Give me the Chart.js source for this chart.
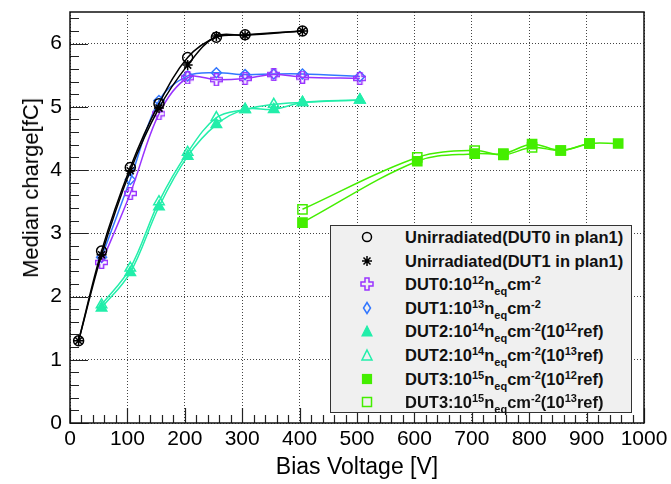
<!DOCTYPE html>
<html><head><meta charset="utf-8">
<script src="https://cdn.jsdelivr.net/npm/chart.js@4.4.1/dist/chart.umd.min.js"></script>
<style>
html,body{margin:0;padding:0;background:#fff;}
#wrap{position:relative;width:671px;height:484px;overflow:hidden;font-family:"Liberation Sans",Arial,sans-serif;}
#c{position:absolute;left:0;top:0;}
#ytitle{position:absolute;left:31px;top:188px;transform:translate(-50%,-50%) rotate(-90deg);font-size:22px;white-space:nowrap;color:#000;}
#legend{position:absolute;left:330px;top:225px;width:302px;height:188px;background:#f0f0f0;border:1.5px solid #333;box-sizing:border-box;}
.row{position:absolute;left:0;width:300px;height:24px;}
.row svg{position:absolute;left:29px;top:5px;}
.row span{position:absolute;left:74px;top:0;line-height:24px;font-weight:bold;font-size:16.5px;color:#111;white-space:nowrap;}
sup{font-size:11px;vertical-align:6px;line-height:0;}
sub{font-size:11px;vertical-align:-5px;line-height:0;}
</style>
</head><body>
<div id="wrap">
<canvas id="c" width="671" height="484"></canvas>
<div id="ytitle">Median charge[fC]</div>
<div id="legend"></div>
</div>
<script>
// ---- data ----
const xTicks = [0,100,200,300,400,500,600,700,800,900,1000];
const yTicks = [0,1,2,3,4,5,6];

const vUnirr = [15,55,105,155,205,255,305,405];
const qUnirrDUT0 = [1.30,2.72,4.04,5.05,5.78,6.10,6.14,6.20];
const qUnirrDUT1 = [1.30,2.66,3.99,4.98,5.66,6.12,6.13,6.20];

const vIrr = [55,105,155,205,255,305,355,405,505];
const qDUT0_1e12 = [2.54,3.63,4.89,5.46,5.43,5.45,5.51,5.47,5.45];
const qDUT1_1e13 = [2.62,3.85,5.10,5.49,5.54,5.51,5.52,5.52,5.48];
const qDUT2_ref12 = [1.82,2.38,3.42,4.22,4.72,4.96,4.96,5.07,5.11];
const qDUT2_ref13 = [1.87,2.45,3.50,4.28,4.83,4.96,5.04,5.07,5.11];

const vDUT3_ref12 = [405,605,705,755,805,855,905,955];
const qDUT3_ref12 = [3.17,4.14,4.26,4.26,4.41,4.31,4.42,4.42];
const vDUT3_ref13 = [405,605,705,755,805,855,905];
const qDUT3_ref13 = [3.38,4.20,4.31,4.24,4.36,4.31,4.42];

const labels = [
  'Unirradiated(DUT0 in plan1)',
  'Unirradiated(DUT1 in plan1)',
  'DUT0:10<sup>12</sup>n<sub>eq</sub>cm<sup>-2</sup>',
  'DUT1:10<sup>13</sup>n<sub>eq</sub>cm<sup>-2</sup>',
  'DUT2:10<sup>14</sup>n<sub>eq</sub>cm<sup>-2</sup>(10<sup>12</sup>ref)',
  'DUT2:10<sup>14</sup>n<sub>eq</sub>cm<sup>-2</sup>(10<sup>13</sup>ref)',
  'DUT3:10<sup>15</sup>n<sub>eq</sub>cm<sup>-2</sup>(10<sup>12</sup>ref)',
  'DUT3:10<sup>15</sup>n<sub>eq</sub>cm<sup>-2</sup>(10<sup>13</sup>ref)'
];

// ---- styles ----
const BLACK='#000000', PURPLE='#9933ff', BLUE='#3377ff', TEAL='#22eeaa', GREEN='#44ee00';

function crossCanvas(color){
  const c=document.createElement('canvas'); c.width=13; c.height=13;
  const g=c.getContext('2d'); g.strokeStyle=color; g.lineWidth=1.6;
  const a=4.5,b=8.5,e=0.5,f=12.5;
  g.beginPath();
  g.moveTo(a,e);g.lineTo(b,e);g.lineTo(b,a);g.lineTo(f,a);g.lineTo(f,b);g.lineTo(b,b);
  g.lineTo(b,f);g.lineTo(a,f);g.lineTo(a,b);g.lineTo(e,b);g.lineTo(e,a);g.lineTo(a,a);g.closePath();
  g.stroke(); return c;
}
const pts=(xs,ys)=>xs.map((v,i)=>({x:v,y:ys[i]}));
const ds=(lab,xs,ys,color,style,r,fill)=>({
  label:lab, data:pts(xs,ys), borderColor:color, backgroundColor:fill?color:'rgba(0,0,0,0)',
  pointStyle:style, pointRadius:r, pointBorderColor:color, pointBackgroundColor:fill?color:'rgba(0,0,0,0)',
  pointBorderWidth:1.5, borderWidth:1.5, tension:0.35, fill:false, showLine:true
});

const datasets=[
  ds(labels[0],vUnirr,qUnirrDUT0,BLACK,'circle',5,false),
  ds(labels[1],vUnirr,qUnirrDUT1,BLACK,'star',5,false),
  ds(labels[2],vIrr,qDUT0_1e12,PURPLE,crossCanvas(PURPLE),6,false),
  ds(labels[3],vIrr,qDUT1_1e13,BLUE,'rectRot',5,false),
  ds(labels[4],vIrr,qDUT2_ref12,TEAL,'triangle',6,true),
  ds(labels[5],vIrr,qDUT2_ref13,TEAL,'triangle',6,false),
  ds(labels[6],vDUT3_ref12,qDUT3_ref12,GREEN,'rect',6.5,true),
  ds(labels[7],vDUT3_ref13,qDUT3_ref13,GREEN,'rect',6.5,false)
];

const frame={id:'frame',afterDatasetsDraw(chart){
  const {ctx,chartArea:a,scales:{x,y}}=chart;
  ctx.save(); ctx.strokeStyle='#222'; ctx.lineWidth=1.2; ctx.beginPath();
  for(let v=x.min;v<=x.max+1e-6;v+=20){const p=Math.round(x.getPixelForValue(v))+0.5;const L=(Math.round(v)%100===0)?15:8;ctx.moveTo(p,a.bottom);ctx.lineTo(p,a.bottom-L);}
  for(let k=0;k*0.2<=y.max+1e-6;k++){const p=Math.round(y.getPixelForValue(k*0.2))+0.5;const L=(k%5===0)?18:9;ctx.moveTo(a.left,p);ctx.lineTo(a.left+L,p);}
  ctx.stroke();
  ctx.lineWidth=1.5; ctx.strokeStyle='#111';
  ctx.strokeRect(a.left,a.top,a.right-a.left,a.bottom-a.top);
  ctx.restore();
}};

const tickFont={family:'"Liberation Sans", Arial, sans-serif',size:21};
new Chart(document.getElementById('c'),{
  type:'scatter',
  data:{datasets},
  options:{
    responsive:false, animation:false, events:[], devicePixelRatio:1,
    layout:{padding:{top:12,right:27,left:0,bottom:0}},
    plugins:{legend:{display:false},tooltip:{enabled:false}},
    scales:{
      x:{type:'linear',min:0,max:1000,
        afterBuildTicks:s=>{s.ticks=xTicks.map(v=>({value:v}));},
        afterFit:s=>{s.height=61;s.paddingLeft=0;s.paddingRight=0;},
        ticks:{font:tickFont,color:'#000',padding:4,maxRotation:0,autoSkip:false,callback:v=>String(v)},
        grid:{drawTicks:false,color:'#444',lineWidth:1},
        border:{display:false,dash:[1,2]},
        title:{display:true,text:'Bias Voltage [V]',font:{family:'"Liberation Sans", Arial, sans-serif',size:23},color:'#000',padding:{top:0,bottom:3}}
      },
      y:{type:'linear',min:0,max:6.5,
        afterBuildTicks:s=>{s.ticks=yTicks.map(v=>({value:v}));},
        afterFit:s=>{s.width=70;s.paddingTop=0;s.paddingBottom=0;},
        ticks:{font:tickFont,color:'#000',padding:8,autoSkip:false,callback:v=>String(v)},
        grid:{drawTicks:false,color:'#444',lineWidth:1},
        border:{display:false,dash:[1,2]}
      }
    }
  },
  plugins:[frame]
});

// ---- legend (HTML text with super/subscripts) ----
const markerSvg=[
  `<circle cx="7" cy="7" r="4.5" fill="none" stroke="${BLACK}" stroke-width="1.5"/>`,
  `<path d="M7 2V12M2 7H12M3.5 3.5L10.5 10.5M10.5 3.5L3.5 10.5" stroke="${BLACK}" stroke-width="1.5"/>`,
  `<path d="M5 1H9V5H13V9H9V13H5V9H1V5H5Z" fill="none" stroke="${PURPLE}" stroke-width="1.5"/>`,
  `<path d="M7 1.5L10.5 7L7 12.5L3.5 7Z" fill="none" stroke="${BLUE}" stroke-width="1.5"/>`,
  `<path d="M7 2L12 12H2Z" fill="${TEAL}" stroke="${TEAL}" stroke-width="1.2"/>`,
  `<path d="M7 2L12 12H2Z" fill="none" stroke="${TEAL}" stroke-width="1.5"/>`,
  `<rect x="2.5" y="2.5" width="9" height="9" fill="${GREEN}" stroke="${GREEN}" stroke-width="1.2"/>`,
  `<rect x="2.5" y="2.5" width="9" height="9" fill="none" stroke="${GREEN}" stroke-width="1.5"/>`
];
const lg=document.getElementById('legend');
labels.forEach((t,i)=>{
  const r=document.createElement('div'); r.className='row'; r.style.top=(-1+i*23.6)+'px';
  r.innerHTML=`<svg width="14" height="14" viewBox="0 0 14 14">${markerSvg[i]}</svg><span>${t}</span>`;
  lg.appendChild(r);
});
</script>
</body></html>
